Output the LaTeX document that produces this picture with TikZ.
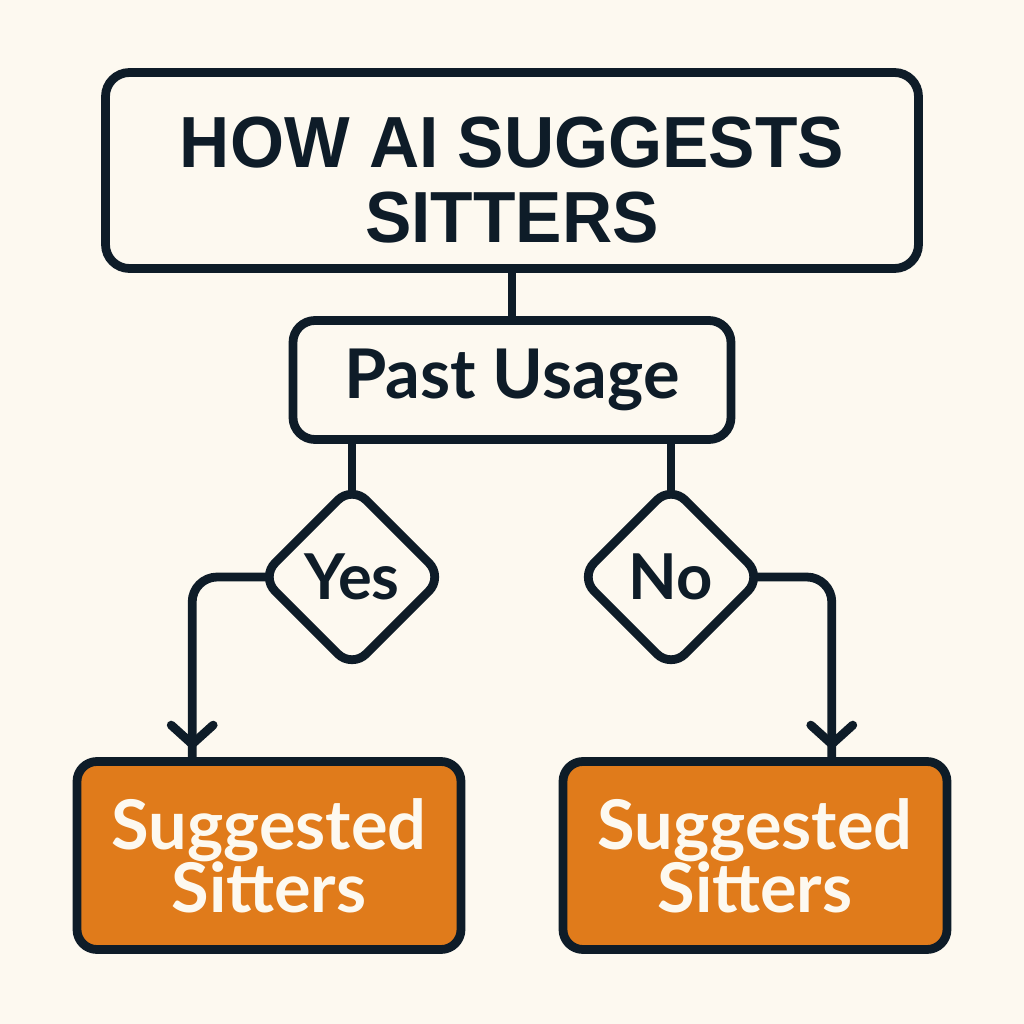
\documentclass[tikz,border=0pt]{standalone}
\usepackage{fontspec}
\setmainfont{Lato}
\newfontfamily\headfont{Liberation Sans}[FakeStretch=0.96]
\usetikzlibrary{arrows.meta, positioning, shapes.geometric, calc, backgrounds, decorations.markings}

\definecolor{ink}{HTML}{0E1C28}
\definecolor{paper}{HTML}{FDF9F0}
\definecolor{amber}{HTML}{E07B1B}

\begin{document}
\begin{tikzpicture}[line width=2.5pt, draw=ink, text=ink]
  \tikzset{
    tbox/.style={
      draw=ink,
      fill=paper,
      rounded corners=0.24cm,
      inner sep=0pt,
      outer sep=0pt,
      minimum width=8.13cm,
      minimum height=1.96cm,
      align=center,
      text height=1.45cm,
      text depth=0pt,
      font=\headfont\fontsize{20.6}{21.5}\selectfont\bfseries},
    pbox/.style={
      draw=ink,
      fill=paper,
      rounded corners=0.22cm,
      inner sep=0pt,
      outer sep=0pt,
      minimum width=4.38cm,
      minimum height=1.19cm,
      font=\fontsize{19.5}{21}\selectfont\bfseries},
    dbox/.style={
      diamond,
      draw=ink,
      fill=paper,
      rounded corners=0.2cm,
      inner sep=0pt,
      outer sep=0pt,
      minimum width=1.82cm,
      minimum height=1.82cm,
      font=\fontsize{18}{20}\selectfont\bfseries},
    obox/.style={
      draw=ink,
      fill=amber,
      text=paper,
      rounded corners=0.2cm,
      inner sep=0pt,
      outer sep=0pt,
      minimum width=3.84cm,
      minimum height=1.88cm,
      align=center,
      font=\fontsize{19.5}{18}\selectfont\bfseries},
    conn/.style={
      draw=ink,
      line width=2.5pt,
      rounded corners=0.25cm},
    arr/.style={
      conn,
      postaction={decorate},
      decoration={markings,
        mark=at position -0.13cm with {\arrow{Straight Barb[length=0.19cm, width=0.42cm, round]}}}}}

  \node[tbox] (title) at (5.12,8.535) {HOW AI SUGGESTS\\SITTERS};
  \node[pbox] (past) [below=0.52cm of title] {Past Usage};

  \node[dbox] (yes) [below=0.465cm of past, xshift=-1.6cm] {Yes};
  \node[dbox] (no) [below=0.465cm of past, xshift=1.59cm] {No};

  \node[obox] (sugl) [below=0.935cm of yes, xshift=-0.83cm] {Suggested\\Sitters};
  \node[obox] (sugr) [below=0.935cm of no, xshift=0.84cm] {Suggested\\Sitters};

  \begin{scope}[on background layer]
    \fill[paper] (0,0) rectangle (10.24,10.24);

    \path[conn] (title.south) -- (past.north);
    \path[conn] (past.south -| yes.north) -- (yes.center);
    \path[conn] (past.south -| no.north) -- (no.center);

    % branch to the boxes below
    \path[arr] (yes.center) -| ($(sugl.north west)!0.3!(sugl.north east)$);
    \path[arr] (no.center) -| ($(sugr.north west)!0.7!(sugr.north east)$);
  \end{scope}
\end{tikzpicture}
\end{document}
